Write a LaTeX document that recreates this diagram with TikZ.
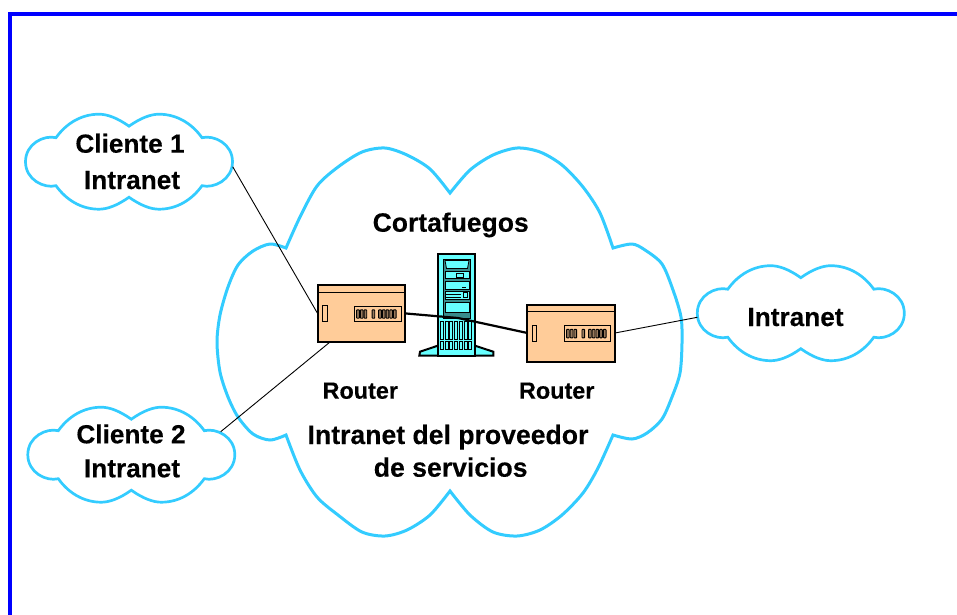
\documentclass[tikz,border=0pt]{standalone}
\usepackage{fontspec}
\setmainfont[BoldFeatures={FakeBold=0.25}]{Liberation Sans}
\definecolor{cloudblue}{HTML}{33CCFF}
\definecolor{routertan}{HTML}{FFCC99}
\definecolor{servercyan}{HTML}{66FFFF}
\tikzset{
  framed/.style={draw=blue,line width=3.4pt},
  cloudline/.style={draw=cloudblue,fill=white,line width=2.7pt,line join=miter},
  bigline/.style={cloudline,line width=3pt},
  cloudspot/.style={minimum width=207pt,minimum height=95pt,inner sep=0pt},
  big/.style={font=\bfseries\fontsize{26.2}{30}\selectfont,anchor=base,inner sep=0pt},
  small/.style={font=\bfseries\fontsize{23.4}{28}\selectfont,anchor=base,inner sep=0pt},
  routerbody/.style={draw=black,fill=routertan,line width=2pt,minimum width=87.5pt,minimum height=57pt,inner sep=0pt,outer sep=0pt},
  thinpart/.style={draw=black,line width=.9pt},
  thinlink/.style={draw=black,line width=.9pt},
  thicklink/.style={draw=black,line width=2.2pt},
  serverpart/.style={draw=black,fill=servercyan,line width=2pt,line join=miter},
  serverthin/.style={draw=black,fill=servercyan,line width=.8pt}
}
\newcommand{\smallcloud}[3]{%
  \begin{scope}[shift={(#2,#3)}]
    \draw[cloudline] (0,-35.5)
      .. controls (12,-44) and (22,-47.5) .. (30,-47.5)
      .. controls (48,-47.5) and (63,-38) .. (73,-24)
      .. controls (85,-27) and (103.5,-18) .. (103.5,0)
      .. controls (103.5,18) and (85,27) .. (73,24)
      .. controls (63,38) and (48,47.5) .. (30,47.5)
      .. controls (22,47.5) and (12,44) .. (0,35.5)
      .. controls (-12,44) and (-22,47.5) .. (-30,47.5)
      .. controls (-48,47.5) and (-63,38) .. (-73,24)
      .. controls (-85,27) and (-103.5,18) .. (-103.5,0)
      .. controls (-103.5,-18) and (-85,-27) .. (-73,-24)
      .. controls (-63,-38) and (-48,-47.5) .. (-30,-47.5)
      .. controls (-22,-47.5) and (-12,-44) .. (0,-35.5) -- cycle;
    \node[cloudspot] (#1) at (0,0) {};
  \end{scope}}
\newcommand{\routerbox}[3]{%
  \node[routerbody] (#1) at (#2,#3) {};
  \begin{scope}[shift={(#1.north west)}]
    \draw[thinpart] (0,7.3) -- (87.5,7.3);
    \draw[thinpart] (4.6,21) rectangle (9.4,37);
    \draw[thinpart] (36.8,21.3) rectangle (83.4,37);
    \foreach \px in {2.3,6,9.7,17.7,24.3,28,31.7,35.4,39.1}{
      \draw[thinpart,fill=routertan!60!black,rounded corners=.6pt]
        ($(36.8,21.3)+(\px,3.6)$) rectangle ($(36.8,21.3)+(\px+2.7,12)$);
    }
  \end{scope}}
\usetikzlibrary{calc}
\begin{document}
\begin{tikzpicture}[x=1pt,y=-1pt]
\useasboundingbox (0,0) rectangle (957,614);
\fill[white] (0,0) rectangle (957,614);
\coordinate (frameTL) at (10,14);
\coordinate (frameTR) at (958,14);
\coordinate (frameBL) at (10,615);
\draw[framed] (frameTR) -- (frameTL) -- (frameBL);

% provider cloud
\draw[bigline]
  plot[smooth,tension=.5] coordinates {(450,193) (470,170) (493,155) (517,148) (540,152) (562,165) (583,187) (600,213) (613,248)}
  -- plot[smooth,tension=.5] coordinates {(613,248) (632,244) (645,250) (662,264) (673,290) (681,317) (682,343) (680,373) (672,397) (662,419) (647,433) (632,439) (613,435)}
  -- plot[smooth,tension=.5] coordinates {(613,435) (598,468) (583,493) (562,515) (540,530) (517,536) (493,532) (470,515) (450,491)}
  -- plot[smooth,tension=.5] coordinates {(450,491) (430,515) (407,530) (385,536) (362,532) (338,515) (317,497) (300,470) (286,435)}
  -- plot[smooth,tension=.5] coordinates {(286,435) (270,440) (253,434) (238,417) (228,397) (220,372) (217,342) (220,315) (228,287) (238,265) (253,251) (270,244) (286,248)}
  -- plot[smooth,tension=.5] coordinates {(286,248) (300,217) (317,186) (338,167) (362,152) (385,148) (407,155) (430,169) (450,193)}
  -- cycle;

\smallcloud{cl1}{129}{161.7}
\smallcloud{cl2}{131.3}{454.7}
\smallcloud{cl3}{800.8}{313.2}

% server
\draw[serverpart] (437.7,345.7) -- (420,351.7) -- (419.3,355.7) -- (493.3,355.7) -- (493.3,351.7) -- (475,345.7) -- cycle;
\node[serverpart,minimum width=37.3pt,minimum height=101.7pt,inner sep=0pt,outer sep=0pt] (srv) at (456.35,304.85) {};
\draw[thinpart,fill=servercyan!55!black,line width=1pt] (443,259) rectangle (470.5,318.5);
\draw[serverthin] (445,260.5) -- (469,260.5) -- (467.5,268.5) -- (446.5,268.5) -- cycle;
\draw[serverthin] (445,271) rectangle (469,278.5);
\draw[thinpart] (456,273) rectangle (463,277);
\draw[serverthin] (445,281) rectangle (469,289);
\draw[thinpart] (462,287) -- (466,287);
\draw[serverthin] (445,291.5) rectangle (469,299);
\draw[thinpart,line width=1pt] (446,294.5) -- (461,294.5) (446,297) -- (461,297);
\draw[thinpart] (463,292.5) rectangle (467,297);
\draw[serverthin] (445,302) rectangle (469,312);
\foreach \sx in {0,...,6}{
  \draw[thinpart] (440.3+4.75*\sx,321.5) rectangle (443.3+4.75*\sx,339);
  \draw[thinpart] (440.3+4.75*\sx,341) rectangle (443.3+4.75*\sx,349);
}

% routers
\routerbox{rtA}{361.3}{313.4}
\routerbox{rtB}{571.2}{333}

% connectors
\coordinate (cl1port) at (232.7,166.7);
\coordinate (cl2port) at (220.7,431.7);
\coordinate (cl3port) at (697.3,317.3);
\coordinate (rtAbottom) at (330,342);
\coordinate (srvbend) at (458,318);
\draw[thinlink] (cl1port) -- (rtA.west);
\draw[thinlink] (cl2port) -- (rtAbottom);
\draw[thinlink] (rtB.east) -- (cl3port);
\draw[thicklink] (rtA.east) -- (srvbend) -- (rtB.west);

% texts
\node[big] (t1a) at (130,152.7) {Cliente 1};
\node[big] (t1b) at (132,189) {Intranet};
\node[big] (t2a) at (131,443.3) {Cliente 2};
\node[big] (t2b) at (132,477.3) {Intranet};
\node[big] (t3) at (795.5,326) {Intranet};
\node[big,font=\bfseries\fontsize{26.5}{30}\selectfont] (t4) at (450.7,231.7) {Cortafuegos};
\node[small] (t5) at (360.3,398.7) {Router};
\node[small] (t6) at (556.7,398.7) {Router};
\node[big,font=\bfseries\fontsize{26.6}{30}\selectfont] (t7) at (448,444) {Intranet del proveedor};
\node[big,font=\bfseries\fontsize{26.6}{30}\selectfont] (t8) at (450.7,476.7) {de servicios};
\end{tikzpicture}
\end{document}
